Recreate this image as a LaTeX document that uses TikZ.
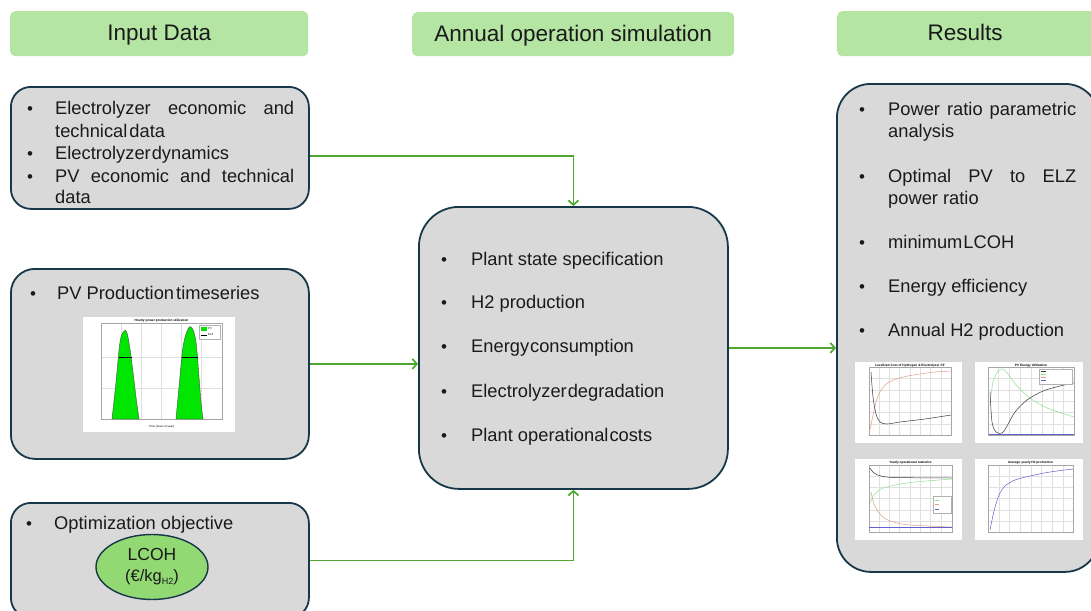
\documentclass[tikz,border=0pt]{standalone}
\usepackage{fontspec}
\setmainfont{Liberation Sans}
\usetikzlibrary{arrows.meta,calc,shapes.geometric}

\definecolor{hdrgreen}{HTML}{B4E5A2}
\definecolor{panelgray}{HTML}{D9D9D9}
\definecolor{paneledge}{HTML}{17384A}
\definecolor{flowgreen}{HTML}{4EA72E}
\definecolor{objgreen}{HTML}{92D873}
\definecolor{txtcol}{HTML}{1A1A1A}
\definecolor{pvgreen}{HTML}{00E600}
\definecolor{crvorange}{HTML}{E0A080}
\definecolor{crvgreen}{HTML}{90E090}
\definecolor{crvblue}{HTML}{6060D0}
\definecolor{crvdark}{HTML}{403040}

\tikzset{
  header/.style={fill=hdrgreen, draw=none, rounded corners=5pt, anchor=north west,
    inner sep=0pt, font=\fontsize{22.5}{26}\selectfont, text=txtcol,
    text height=17pt, text depth=3pt},
  panel/.style={fill=panelgray, draw=paneledge, line width=1.8pt, anchor=north west, inner sep=0pt},
  txt/.style={anchor=base west, inner sep=0pt, font=\fontsize{18.3}{22}\selectfont, text=txtcol},
  bul/.style={anchor=base, inner sep=0pt, font=\fontsize{17}{21}\selectfont, text=txtcol},
  flow/.style={draw=flowgreen, line width=1.7pt,
    -{Straight Barb[length=4.5pt,width=10pt,line width=1.7pt]}},
  plotbg/.style={fill=white, draw=none},
  axbox/.style={draw=gray!70, line width=0.3pt},
  gridln/.style={draw=gray!25, line width=0.25pt},
  crv/.style={line width=0.5pt},
  ptitle/.style={font=\fontsize{3.2}{3.6}\selectfont\bfseries, inner sep=0pt, anchor=base}
}

\begin{document}
\begin{tikzpicture}[x=1pt, y=-1pt]
\useasboundingbox (0,0) rectangle (1091,610);

% ---- column headers
\node[header, minimum width=298pt, minimum height=45pt] (h1) at (10,11) {Input Data};
\node[header, minimum width=322pt, minimum height=44pt] (h2) at (412,12) {Annual operation simulation};
\node[header, minimum width=260pt, minimum height=45pt] (h3) at (837,11) {\hspace*{-4pt}Results};

% ---- input panels
\node[panel, rounded corners=20pt, minimum width=298pt, minimum height=122pt] (in1) at (10,86) {};
\node[panel, rounded corners=24pt, minimum width=298pt, minimum height=190pt] (in2) at (10,268) {};
\node[panel, rounded corners=20pt, minimum width=298pt, minimum height=115pt] (in3) at (10,502) {};

% ---- simulation panel
\node[panel, rounded corners=40pt, minimum width=309pt, minimum height=282pt] (sim) at (418,206) {};

% ---- results panel
\node[panel, rounded corners=34pt, minimum width=262pt, minimum height=488pt] (res) at (836,83) {};

% ---- input data text
\node[bul] (b1a) at (30,114) {•};
\node[txt] (t1a) at (55,114) {\hbox to 239pt{Electrolyzer\hfill economic\hfill and}};
\node[txt] (t1b) at (55,137) {technical\kern2pt data};
\node[bul] (b1c) at (30,159) {•};
\node[txt] (t1c) at (55,159) {Electrolyzer\kern1pt dynamics};
\node[bul] (b1d) at (30,182) {•};
\node[txt] (t1d) at (55,182) {\hbox to 239pt{PV\hfill economic\hfill and\hfill technical}};
\node[txt] (t1e) at (55,203) {data};

\node[bul] (b2a) at (33,299) {•};
\node[txt] (t2a) at (57,299) {PV Production\kern2pt timeseries};

\node[bul] (b3a) at (29,529) {•};
\node[txt] (t3a) at (54,529) {Optimization objective};

% ---- optimisation objective
\node[ellipse, fill=objgreen, draw=paneledge, line width=1.4pt,
  minimum width=112pt, minimum height=65pt, inner sep=0pt, align=center,
  font=\fontsize{17.5}{24}\selectfont, text=txtcol] (obj) at (152,567)
  {LCOH\\[-3pt]{\fontsize{16.5}{20}\selectfont(€/kg{\fontsize{9}{10}\selectfont\raisebox{-2.5pt}{H2}})}};

% ---- PV production chart
\begin{scope}[shift={(83,317)}]
  \fill[plotbg] (0,0) rectangle (152,115);
  \foreach \gx in {38,58,78,98,118} \draw[gridln] (\gx,6) -- (\gx,102);
  \foreach \gy in {40,71} \draw[gridln] (18,\gy) -- (139,\gy);
  \draw[axbox] (18,6) rectangle (139,102);
  \node[ptitle] (pvtitle) at (78.5,4.5) {Hourly power production utilization};
  \fill[pvgreen, draw=black!70, line width=0.4pt] plot[smooth, tension=0.6] coordinates
    {(29,102) (33,65) (37,25) (41,14) (44,16) (47,32) (50,55) (53,80) (56,102)} -- cycle;
  \fill[pvgreen, draw=black!70, line width=0.4pt] plot[smooth, tension=0.6] coordinates
    {(93,102) (96,70) (100,30) (105,12) (109,11) (113,25) (116,60) (118,85) (120,102)} -- cycle;
  \draw[black, line width=0.6pt] (36,40) -- (49,40);
  \draw[black, line width=0.6pt] (99,40) -- (115,40);
  \draw[gray!60, line width=0.2pt, fill=white] (116,8) rectangle (137,22);
  \fill[pvgreen] (117.5,10) rectangle (124,14);
  \draw[black, line width=0.5pt] (117.5,18) -- (124,18);
  \node[font=\fontsize{2.8}{3}\selectfont, inner sep=0pt, anchor=west] (pvlegA) at (125,12) {PV};
  \node[font=\fontsize{2.8}{3}\selectfont, inner sep=0pt, anchor=west] (pvlegB) at (125,18) {ELZ};
  \node[font=\fontsize{2.8}{3}\selectfont, inner sep=0pt, anchor=north] (pvxlab) at (78.5,108) {Time [hours of year]};
\end{scope}

% ---- result charts
% levelized cost of hydrogen
\begin{scope}[shift={(855,362)}]
  \fill[plotbg] (0,0) rectangle (107,81);
  \foreach \gx in {24,34,44,55,65,75,86} \draw[gridln] (\gx,5) -- (\gx,73);
  \foreach \gy in {16,28,39,50,62} \draw[gridln] (14,\gy) -- (96,\gy);
  \draw[axbox] (14,5) rectangle (96,73);
  \node[ptitle] (p1title) at (55,4) {Levelized Cost of Hydrogen \& Electrolyzer CF};
  \draw[crv, crvorange] plot[smooth, tension=0.5] coordinates
    {(14,72) (17,58) (21,40) (26,28) (34,20) (48,15) (65,12) (80,10) (96,9)};
  \draw[crv, crvdark] plot[smooth, tension=0.5] coordinates
    {(16,10) (18,35) (21,52) (25,60) (32,62) (45,60) (70,57) (96,53)};
\end{scope}

% PV energy utilization
\begin{scope}[shift={(975,362)}]
  \fill[plotbg] (0,0) rectangle (108,81);
  \foreach \gx in {23,34,45,56,67,78,88} \draw[gridln] (\gx,5) -- (\gx,73);
  \foreach \gy in {16,28,39,50,62} \draw[gridln] (13,\gy) -- (99,\gy);
  \draw[axbox] (13,5) rectangle (99,73);
  \node[ptitle] (p2title) at (56,4) {PV Energy Utilization};
  \draw[crv, crvgreen] plot[smooth, tension=0.5] coordinates
    {(15,42) (18,20) (23,9) (28,7) (33,12) (42,24) (55,36) (72,46) (99,55)};
  \draw[crv, crvdark] plot[smooth, tension=0.5] coordinates
    {(15,30) (17,60) (21,70) (27,71) (32,64) (40,50) (52,38) (68,29) (85,24) (99,21)};
  \draw[crv, crvblue] (14,72.5) -- (99,72.5);
  \draw[gray!60, line width=0.2pt, fill=white] (64,7) rectangle (97,22);
  \foreach \ly/\lc in {9/crvdark,12/crvgreen,15/crvorange,18/crvblue}
    \draw[\lc, line width=0.4pt] (65.5,\ly) -- (71,\ly);
\end{scope}

% yearly operational statistics
\begin{scope}[shift={(855,459)}]
  \fill[plotbg] (0,0) rectangle (107,81);
  \foreach \gx in {24,34,44,55,65,75,86} \draw[gridln] (\gx,6) -- (\gx,73);
  \foreach \gy in {17,28,39,51,62} \draw[gridln] (14,\gy) -- (97,\gy);
  \draw[axbox] (14,6) rectangle (97,73);
  \node[ptitle] (p3title) at (55.5,4.5) {Yearly operational statistics};
  \draw[crv, crvdark] plot[smooth, tension=0.5] coordinates
    {(15,9) (19,14) (26,17) (40,18.5) (97,19)};
  \draw[crv, crvgreen] plot[smooth, tension=0.5] coordinates
    {(15,44) (19,36) (26,30) (40,26) (60,23) (97,20)};
  \draw[crv, crvorange] plot[smooth, tension=0.5] coordinates
    {(16,33) (19,45) (25,55) (35,62) (55,66) (97,68)};
  \draw[crv, crvblue] (14,68.5) -- (97,68.5);
  \draw[gray!60, line width=0.2pt, fill=white] (78,37) rectangle (96,54);
  \foreach \ly/\lc in {41/crvgreen,45.5/crvorange,50/crvblue}
    \draw[\lc, line width=0.4pt] (79.5,\ly) -- (84,\ly);
\end{scope}

% average yearly H2 production
\begin{scope}[shift={(975,459)}]
  \fill[plotbg] (0,0) rectangle (108,81);
  \foreach \gx in {24,34,45,56,66,77,88} \draw[gridln] (\gx,6) -- (\gx,73);
  \foreach \gy in {17,28,39,51,62} \draw[gridln] (13,\gy) -- (98,\gy);
  \draw[axbox] (13,6) rectangle (98,73);
  \node[ptitle] (p4title) at (55.5,4.5) {Average yearly H2 production};
  \draw[crv, crvblue] plot[smooth, tension=0.5] coordinates
    {(15,71) (19,52) (24,36) (30,27) (40,21) (55,17) (75,13) (98,10)};
\end{scope}

% ---- simulation text
\foreach \yy/\tt [count=\i] in {265/Plant state specification,
                                308/H2 production,
                                352/Energy\kern1pt consumption,
                                397/Electrolyzer\kern1pt degradation,
                                441/Plant operational\kern1pt costs}{
  \node[bul] (sb\i) at (444,\yy) {•};
  \node[txt] (st\i) at (471,\yy) {\tt};
}

% ---- results text
\node[bul] (rb1) at (862,115) {•};
\node[txt] (rt1) at (888,115) {\hbox to 188pt{Power\hfill ratio\hfill parametric}};
\node[txt] (rt1b) at (888,137) {analysis};
\node[bul] (rb2) at (862,182) {•};
\node[txt] (rt2) at (888,182) {\hbox to 188pt{Optimal\hfill PV\hfill to\hfill ELZ}};
\node[txt] (rt2b) at (888,204) {power ratio};
\node[bul] (rb3) at (862,248) {•};
\node[txt] (rt3) at (888,248) {minimum\kern1pt LCOH};
\node[bul] (rb4) at (862,292) {•};
\node[txt] (rt4) at (888,292) {Energy efficiency};
\node[bul] (rb5) at (862,336) {•};
\node[txt] (rt5) at (888,336) {Annual H2 production};

% ---- connectors
\draw[flow] ([yshift=-8pt]in1.east) -| (sim.north);
\draw[flow] (in2.east) -- (in2.east -| sim.west);
\draw[flow] (in3.east) -| (sim.south);
\draw[flow] (sim.east) -- (sim.east -| res.west);
\end{tikzpicture}
\end{document}
